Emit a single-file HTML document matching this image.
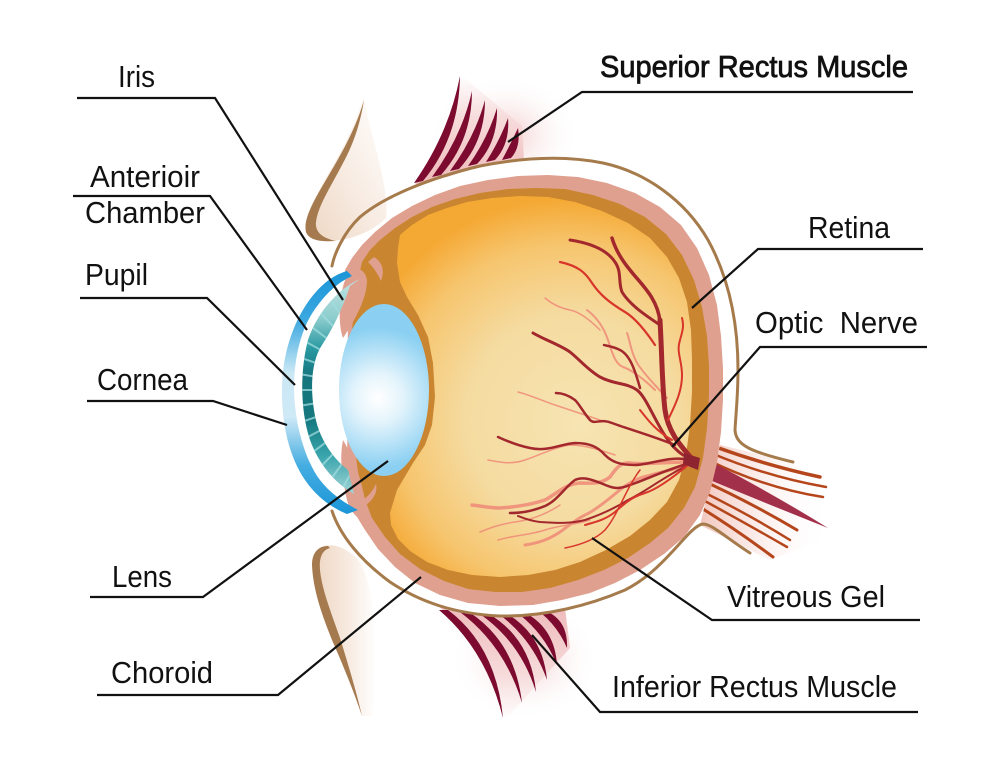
<!DOCTYPE html>
<html><head><meta charset="utf-8"><style>
html,body{margin:0;padding:0;background:#fff;}
svg{display:block;}
text{font-family:"Liberation Sans",sans-serif;font-size:31px;fill:#111;}
</style></head><body>
<svg width="1000" height="772" viewBox="0 0 1000 772" xmlns="http://www.w3.org/2000/svg">
<defs>
 <radialGradient id="vit" gradientUnits="userSpaceOnUse" cx="565" cy="415" r="215" fx="580" fy="425">
  <stop offset="0" stop-color="#f6e4b2"/>
  <stop offset="0.5" stop-color="#f5dba0"/>
  <stop offset="0.8" stop-color="#f6c56e"/>
  <stop offset="1" stop-color="#f5a935"/>
 </radialGradient>
 <radialGradient id="lens" gradientUnits="userSpaceOnUse" cx="378" cy="398" r="70">
  <stop offset="0" stop-color="#ffffff"/>
  <stop offset="0.35" stop-color="#e4f4fc"/>
  <stop offset="1" stop-color="#8bd0f2"/>
 </radialGradient>
 <linearGradient id="cor" gradientUnits="userSpaceOnUse" x1="0" y1="271" x2="0" y2="514">
  <stop offset="0" stop-color="#1b95d8"/>
  <stop offset="0.2" stop-color="#3ba8e0"/>
  <stop offset="0.42" stop-color="#cbe8f5"/>
  <stop offset="0.6" stop-color="#cfe9f6"/>
  <stop offset="0.8" stop-color="#45ade1"/>
  <stop offset="1" stop-color="#1b95d8"/>
 </linearGradient>
 <linearGradient id="iris" gradientUnits="userSpaceOnUse" x1="0" y1="279" x2="0" y2="495">
  <stop offset="0" stop-color="#c3e4e3"/>
  <stop offset="0.18" stop-color="#8ecdcd"/>
  <stop offset="0.32" stop-color="#2a9aa3"/>
  <stop offset="0.45" stop-color="#15757e"/>
  <stop offset="0.65" stop-color="#15787f"/>
  <stop offset="0.82" stop-color="#3aa5ad"/>
  <stop offset="1" stop-color="#a6d6d6"/>
 </linearGradient>
 <linearGradient id="lidU" x1="0" y1="1" x2="1" y2="0">
  <stop offset="0" stop-color="#eed6c2"/>
  <stop offset="0.5" stop-color="#f8ece3"/>
  <stop offset="1" stop-color="#ffffff"/>
 </linearGradient>
 <linearGradient id="lidL" x1="0" y1="0" x2="1" y2="0">
  <stop offset="0" stop-color="#eed6c2"/>
  <stop offset="0.6" stop-color="#f8ece3"/>
  <stop offset="1" stop-color="#ffffff"/>
 </linearGradient>
 <linearGradient id="musU" gradientUnits="userSpaceOnUse" x1="0" y1="180" x2="0" y2="75">
  <stop offset="0" stop-color="#efbcbc"/>
  <stop offset="0.6" stop-color="#f7dcdc"/>
  <stop offset="1" stop-color="#ffffff"/>
 </linearGradient>
 <linearGradient id="musL" gradientUnits="userSpaceOnUse" x1="0" y1="610" x2="0" y2="720">
  <stop offset="0" stop-color="#efbcbc"/>
  <stop offset="0.6" stop-color="#f7dcdc"/>
  <stop offset="1" stop-color="#ffffff"/>
 </linearGradient>
 <radialGradient id="glow" cx="0.5" cy="0.5" r="0.5">
  <stop offset="0" stop-color="#f3cccc"/>
  <stop offset="1" stop-color="#ffffff" stop-opacity="0"/>
 </radialGradient>
 <linearGradient id="nerveG" gradientUnits="userSpaceOnUse" x1="700" y1="0" x2="830" y2="0">
  <stop offset="0" stop-color="#f2c6bd"/>
  <stop offset="1" stop-color="#ffffff" stop-opacity="0"/>
 </linearGradient>
 <clipPath id="irisClip">
  <path d="M360,279 C340,288 318,310 308,340 C300,370 300,410 310,440 C318,462 333,482 354,494 L348,470 C335,460 318,440 314,410 C310,385 312,360 322,345 C332,330 342,310 350,286 Z"/>
 </clipPath>
</defs>

<!-- glows -->
<ellipse cx="505" cy="135" rx="75" ry="60" fill="url(#glow)"/>
<ellipse cx="525" cy="660" rx="75" ry="60" fill="url(#glow)"/>

<!-- superior muscle -->
<path d="M415,184 Q452,134 460,74 L522,126 L524,160 Z" fill="url(#musU)"/>
<g fill="#7c0b2f">
 <path d="M414,183 Q449,133 460,76 Q459,138 423,181 Z"/>
 <path d="M432,177 Q462,136 472,91 Q472,140 441,175 Z"/>
 <path d="M450,171 Q475,137 485,100 Q485,141 459,169 Z"/>
 <path d="M468,166 Q488,138 497,108 Q498,142 477,164 Z"/>
 <path d="M486,162 Q500,140 508,118 Q510,144 495,160 Z"/>
 <path d="M502,160 Q511,143 518,128 Q521,147 511,158 Z"/>
</g>

<!-- inferior muscle -->
<path d="M438,606 Q495,648 503,722 L570,648 L565,608 Z" fill="url(#musL)"/>
<g fill="#7c0b2f">
 <path d="M439,610 Q486,650 503,718 Q496,646 448,610 Z"/>
 <path d="M460,612 Q505,646 522,703 Q515,642 469,612 Z"/>
 <path d="M480,614 Q521,643 536,692 Q531,639 489,614 Z"/>
 <path d="M500,615 Q533,640 547,680 Q543,636 509,615 Z"/>
 <path d="M520,615 Q545,635 557,665 Q555,631 529,615 Z"/>
 <path d="M541,613 Q558,627 567,648 Q568,623 550,613 Z"/>
</g>

<!-- optic nerve -->
<path d="M700,440 L790,462 L835,490 L835,535 L770,560 L690,520 Z" fill="url(#nerveG)"/>
<g fill="none" stroke="#b5461b" stroke-linecap="round">
 <path d="M713,446 Q765,465 820,477" stroke-width="3.5"/>
 <path d="M711,453 Q768,477 826,487" stroke-width="2.5"/>
 <path d="M708,460 Q765,488 823,497" stroke-width="2.5"/>
 <path d="M697,478 Q750,502 797,530" stroke-width="3"/>
 <path d="M693,487 Q745,512 790,540" stroke-width="2.5"/>
 <path d="M692,494 Q740,520 787,547" stroke-width="2.5"/>
 <path d="M690,501 Q733,527 773,557" stroke-width="3"/>
</g>
<path d="M690,457 L712,462 Q775,495 828,528 Q770,505 705,478 L690,472 Z" fill="#a3304a"/>

<!-- sclera white -->
<path d="M332,265 L337,247 L353,223 L380,203 L420,187 L450,176 L480,166 L520,160 L563,158 L603,165 L640,177 L670,195 L693,217 L712,248 L727,283 L735,325 L738,370 L737,400 L730,430 L720,445 L714,470 L706,500 L700,525 L690,530 L660,560 L627,590 L593,603 L560,610 L520,615 L480,615 L450,610 L420,600 L387,580 L360,557 L337,527 L332,512 L300,390 Z" fill="#fff"/>

<!-- eyelids -->
<path d="M363,96 C372,140 390,190 386,218 C374,230 358,237 340,240 C325,242 312,242 307,234 C302,222 312,203 325,180 C342,150 356,125 363,96 Z" fill="url(#lidU)"/>
<path d="M364,100 C356,128 342,153 326,180 C313,202 303,220 306,232 C309,240 320,242 336,241 C322,238 315,232 316,222 C318,206 330,188 342,165 C353,145 360,125 364,100 Z" fill="#a57a4e"/>
<path d="M324,546 C336,543 350,550 360,562 C375,590 380,650 372,716 L362,716 C355,690 345,665 335,640 C325,615 316,590 314,565 C313,555 317,548 324,546 Z" fill="url(#lidL)"/>
<path d="M328,546 C318,546 312,553 312,565 C313,590 322,615 332,640 C343,665 354,692 362,716 C356,690 348,664 340,638 C331,612 322,590 320,570 C319,558 322,550 330,548 Z" fill="#a57a4e"/>

<!-- sclera line -->
<g fill="none" stroke="#a67b4c" stroke-linecap="round" stroke-linejoin="round">
 <path d="M332,266 C334,255 343,233 360,217 C385,196 430,178 480,166 C520,158 563,155 603,163 C645,172 685,200 708,240 C730,280 738,325 738,370 C738,395 736,412 735,430 C736,446 752,452 793,462" stroke-width="3"/>
 <path d="M332,511 C340,535 360,560 390,582 C420,602 455,614 500,616 C545,617 590,605 625,590 C645,580 660,565 672,552 C685,538 695,525 703,524 C712,524 725,537 750,553" stroke-width="3"/>
</g>

<!-- choroid pink -->
<path d="M345,270 L352,258 L362,245 L375,232 L392,218 L412,206 L435,195 L460,186 L488,180 L518,176 L548,175 L578,177 L607,183 L635,193 L660,207 L681,225 L697,248 L709,275 L717,305 L721,336 L723,368 L723,400 L721,432 L717,463 L710,492 L700,515 L684,537 L664,554 L640,570 L615,583 L590,593 L562,600 L533,605 L500,606 L468,603 L440,595 L415,583 L395,567 L378,549 L365,530 L354,512 L347,500 L348,300 Z" fill="#e0a08f"/>
<!-- retina brown -->
<path d="M362,262 L370,250 L380,240 L395,228 L412,217 L432,207 L455,199 L480,193 L508,189 L537,188 L565,189 L593,195 L620,204 L645,217 L666,234 L682,255 L694,280 L702,307 L707,336 L709,366 L709,396 L707,428 L703,458 L695,487 L684,508 L668,528 L650,543 L628,558 L604,570 L578,580 L550,588 L522,592 L495,592 L468,589 L444,581 L420,569 L400,554 L385,537 L372,518 L364,497 L358,472 L354,440 L352,330 L355,300 L358,280 Z" fill="#c9852f"/>
<!-- vitreous -->
<path d="M400,235 L412,225 L428,215 L447,208 L467,202 L492,198 L520,196 L548,197 L575,202 L602,211 L628,223 L650,238 L667,257 L679,278 L687,302 L691,330 L692,360 L692,392 L690,425 L686,455 L679,480 L667,502 L650,520 L630,536 L606,550 L580,562 L555,570 L528,575 L500,577 L472,575 L448,570 L427,562 L410,551 L398,539 L391,525 L390,513 L397,490 L413,463 L425,445 L432,425 L435,397 L433,363 L428,337 L418,315 L407,297 L400,282 L397,263 L398,248 Z" fill="url(#vit)"/>

<!-- vessels -->
<g fill="none" stroke-linecap="round" stroke-linejoin="round">
 <g stroke="#f08a78" opacity="0.85">
  <path d="M690,462 C660,462 645,465 630,463 C620,462 615,470 610,477 C600,485 590,483 580,483 C565,484 555,495 545,500 C530,505 515,507 500,508 C490,508 482,506 472,505" stroke-width="3.5"/>
  <path d="M690,465 C670,470 650,475 640,478 C625,484 618,492 610,498 C600,506 592,512 585,515 C575,520 567,527 560,532 C548,540 538,543 525,545" stroke-width="3"/>
  <path d="M655,390 C645,380 632,370 623,367 C615,364 612,352 608,340 C603,325 595,316 587,310" stroke-width="2"/>
  <path d="M667,398 C655,385 645,375 637,363 C630,350 630,340 627,333" stroke-width="2"/>
  <path d="M600,420 C585,415 570,410 555,405 C540,400 530,395 518,392" stroke-width="1.5"/>
  <path d="M615,455 C600,450 585,445 570,445 C555,447 540,455 525,460 C510,465 500,462 488,460" stroke-width="1.5"/>
  <path d="M590,520 C575,525 560,525 545,530 C530,535 515,535 498,540" stroke-width="1.5"/>
  <path d="M560,505 C545,515 530,520 515,522 C500,524 490,528 480,532" stroke-width="1.5"/>
  <path d="M600,330 C590,320 580,312 570,310 C560,308 552,304 545,298" stroke-width="1.5"/>
 </g>
 <g stroke="#a3282d">
  <path d="M693,460 C680,445 668,432 665,410 C662,385 662,355 660,320" stroke-width="5"/>
  <path d="M660,322 C658,298 640,283 630,270 C620,258 615,248 612,238" stroke-width="3.5"/>
  <path d="M660,325 C645,315 630,305 622,292 C618,282 622,272 615,262 C607,250 590,243 570,240" stroke-width="3"/>
  <path d="M683,455 C660,440 650,400 637,390 C625,382 615,385 600,377 C588,370 580,360 570,352 C560,345 545,340 533,333" stroke-width="3"/>
  <path d="M640,388 C635,370 630,355 620,350 C612,346 607,346 604,345" stroke-width="2.5"/>
  <path d="M690,460 C670,455 650,465 635,465 C620,465 612,462 605,455 C598,447 590,443 575,443 C560,444 548,452 530,448 C515,445 505,440 498,437" stroke-width="2.5"/>
  <path d="M690,463 C665,470 645,480 630,485 C618,490 612,488 603,484 C593,480 583,476 575,480 C565,487 558,500 545,506 C530,512 520,513 510,513" stroke-width="2.5"/>
  <path d="M675,445 C650,435 625,428 612,423 C600,418 595,425 590,420 C583,412 580,405 575,400 C568,395 562,393 556,393" stroke-width="2.5"/>
  <path d="M688,465 C662,478 645,492 628,500 C615,508 600,515 585,520 C570,524 555,523 540,522 C530,521 523,518 518,516" stroke-width="2"/>
 </g>
 <g stroke="#d8352b">
  <path d="M655,345 C645,330 635,318 625,312 C610,303 600,295 592,283 C585,272 578,266 560,262" stroke-width="2.2"/>
  <path d="M668,420 C675,405 682,392 682,375 C682,360 676,352 680,340 C683,330 684,325 682,318" stroke-width="2"/>
  <path d="M688,465 C670,480 655,490 645,493 C632,497 625,503 615,512 C605,520 595,522 585,525" stroke-width="2"/>
  <path d="M640,470 C625,490 618,515 605,530 C595,540 580,545 565,548" stroke-width="1.5"/>
  <path d="M672,440 C655,430 648,420 640,410" stroke-width="2"/>
 </g>
</g>
<path d="M684,453 L700,458 L698,470 L683,464 Z" fill="#8e2430"/>

<!-- lens -->
<ellipse cx="384" cy="390" rx="45" ry="86" fill="url(#lens)"/>

<!-- pink flaps -->
<g fill="#e0a08f">
 <path d="M350,268 C360,266 367,273 367,282 C366,300 355,320 343,338 C338,325 339,300 344,283 Z"/>
 <path d="M343,440 C352,455 360,475 364,495 C367,507 368,515 362,520 C352,515 347,505 345,490 C341,470 340,455 343,440 Z"/>
 <path d="M374,257 C382,262 385,270 381,281 C377,272 372,266 368,262 Z"/>
 <path d="M366,505 C373,500 378,492 376,484 C372,492 368,497 362,500 Z"/>
</g>

<!-- iris -->
<path d="M360,279 C340,288 318,310 308,340 C300,370 300,410 310,440 C318,462 333,482 354,494 L348,470 C335,460 318,440 314,410 C310,385 312,360 322,345 C332,330 342,310 350,286 Z" fill="url(#iris)"/>
<g clip-path="url(#irisClip)" stroke="#9fdcdf" stroke-width="2" opacity="0.75">
 <line x1="395" y1="390" x2="345" y2="260"/>
 <line x1="395" y1="390" x2="330" y2="268"/>
 <line x1="395" y1="390" x2="316" y2="280"/>
 <line x1="395" y1="390" x2="303" y2="295"/>
 <line x1="395" y1="390" x2="292" y2="312"/>
 <line x1="395" y1="390" x2="284" y2="330"/>
 <line x1="395" y1="390" x2="278" y2="350"/>
 <line x1="395" y1="390" x2="275" y2="370"/>
 <line x1="395" y1="390" x2="274" y2="390"/>
 <line x1="395" y1="390" x2="275" y2="410"/>
 <line x1="395" y1="390" x2="278" y2="430"/>
 <line x1="395" y1="390" x2="284" y2="450"/>
 <line x1="395" y1="390" x2="292" y2="468"/>
 <line x1="395" y1="390" x2="303" y2="485"/>
 <line x1="395" y1="390" x2="316" y2="500"/>
 <line x1="395" y1="390" x2="330" y2="512"/>
</g>

<!-- cornea -->
<path d="M347,271 C330,276 318,288 308,302 C292,325 283,355 282,385 C281,420 288,455 305,480 C316,496 330,507 347,514 L358,510 C343,502 330,493 320,480 C305,460 295,425 294,390 C294,355 302,325 318,305 C327,293 337,283 352,276 Z" fill="url(#cor)"/>

<!-- label lines -->
<g fill="none" stroke="#111" stroke-width="2.2" stroke-linejoin="miter">
 <polyline points="77,98 215,98 343,300"/>
 <polyline points="73,196 210,196 307,330"/>
 <polyline points="80,298 207,298 295,385"/>
 <polyline points="87,401 213,401 287,425"/>
 <polyline points="90,597 203,597 388,461"/>
 <polyline points="97,695 278,695 421,577"/>
 <polyline points="508,142 582,92 913,92"/>
 <polyline points="692,308 758,249 923,249"/>
 <polyline points="672,447 760,347 927,347"/>
 <polyline points="592,538 712,620 920,620"/>
 <polyline points="532,635 600,712 918,712"/>
</g>

<!-- labels -->
<text x="118" y="87" textLength="37" lengthAdjust="spacingAndGlyphs">Iris</text>
<text x="90" y="187" textLength="110" lengthAdjust="spacingAndGlyphs">Anterioir</text>
<text x="85" y="223" textLength="120" lengthAdjust="spacingAndGlyphs">Chamber</text>
<text x="85" y="285" textLength="63" lengthAdjust="spacingAndGlyphs">Pupil</text>
<text x="97" y="390" textLength="91" lengthAdjust="spacingAndGlyphs">Cornea</text>
<text x="112" y="587" textLength="60" lengthAdjust="spacingAndGlyphs">Lens</text>
<text x="111" y="683" textLength="102" lengthAdjust="spacingAndGlyphs">Choroid</text>
<text x="600" y="77" textLength="308" lengthAdjust="spacingAndGlyphs" stroke="#111" stroke-width="0.8">Superior Rectus Muscle</text>
<text x="808" y="238" textLength="82" lengthAdjust="spacingAndGlyphs">Retina</text>
<text x="755" y="333" textLength="163" lengthAdjust="spacingAndGlyphs">Optic&#160; Nerve</text>
<text x="727" y="607" textLength="158" lengthAdjust="spacingAndGlyphs">Vitreous Gel</text>
<text x="612" y="697" textLength="285" lengthAdjust="spacingAndGlyphs">Inferior Rectus Muscle</text>
</svg>
</body></html>
